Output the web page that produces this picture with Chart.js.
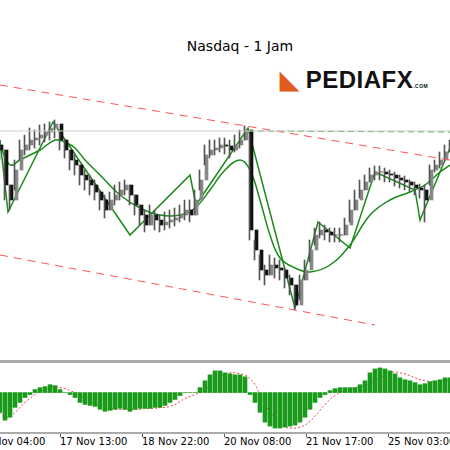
<!DOCTYPE html><html><head><script src="https://cdn.jsdelivr.net/npm/chart.js@4"></script>
<style>body{margin:0;width:450px;height:450px;overflow:hidden;background:#fff;font-family:"DejaVu Sans",sans-serif;position:relative}
#c1{position:absolute;left:0;top:0}#c2{position:absolute;left:0;top:363px}
#t{position:absolute;top:38px;left:0;width:480px;text-align:center;font-size:14px;color:#000}
#logo{position:absolute;left:280px;top:66px;font-weight:bold;font-size:24px;font-family:"Liberation Sans";color:#111;letter-spacing:0.5px}
#sep{position:absolute;left:0;top:360px;width:450px;height:3px;background:#aaa}
#bot{position:absolute;left:0;top:432px;width:450px;height:2px;background:#aaa}
.lb{position:absolute;top:436px;font-size:10px;color:#000;white-space:nowrap}
.tk{position:absolute;top:434px;width:1px;height:3px;background:#555}
</style></head><body>
<div id="t">Nasdaq - 1 Jam</div>
<div id="logo"><span style="color:#e25b1d">◣</span> PEDIAFX<span style="font-size:5px">.COM</span></div>
<canvas id="c1" width="450" height="360"></canvas><div id="sep"></div><canvas id="c2" width="450" height="69"></canvas><div id="bot"></div>
<div id="labels"></div>
<script>
const xs=[];for(let i=0;i<=450;i+=5)xs.push(i);
const closes=[150,185,200,170,150,145,140,138,135,132,128,124,140,150,160,165,175,180,185,192,200,210,200,195,190,185,195,205,215,225,215,220,225,222,220,218,215,210,215,200,180,155,150,148,145,146,150,145,140,130,230,250,270,275,265,268,270,278,285,305,280,270,250,235,230,232,235,235,235,225,210,200,190,182,175,172,172,174,175,178,180,182,185,188,190,200,170,165,160,152,145];
const highs=[140,150,185,160,140,135,128,130,125,124,122,120,130,140,150,155,165,170,175,180,190,195,192,185,182,180,185,195,205,210,205,210,215,212,210,208,205,200,200,190,170,145,140,140,138,138,140,135,130,126,135,240,255,265,255,258,260,268,275,285,275,260,240,228,222,225,228,228,228,218,200,190,180,175,168,166,166,168,170,172,175,176,180,182,184,185,165,160,152,145,140];
const lows=[160,200,210,190,160,155,150,148,145,142,140,138,150,158,170,175,185,190,195,200,210,218,210,205,200,195,205,215,225,232,225,230,232,230,228,226,222,220,222,215,190,165,158,155,152,154,158,152,148,140,240,260,280,285,275,278,280,288,295,310,300,280,262,245,238,240,242,242,242,235,222,210,198,190,182,180,180,182,182,186,188,190,192,195,198,222,185,172,168,160,152];
const maX=[0,10,20,30,40,55,65,75,85,100,120,140,160,180,195,210,225,240,250,260,270,280,295,310,330,350,370,390,410,425,440,450];
const maY=[145,165,160,155,150,140,142,148,160,175,195,208,215,215,208,190,170,160,170,200,235,258,268,272,265,245,215,200,192,185,172,165];
const zzX=[0,8,53,130,190,196,248,295,318,350,375,415,420,450];
const zzY=[140,212,122,235,175,205,128,308,222,248,172,190,220,148];
const macd=[-20,-28,-25,-15,-10,-5,-2,3,5,6,8,7,3,0,-2,-5,-10,-12,-13,-14,-17,-19,-18,-17,-16,-17,-19,-17,-16,-16,-16,-15,-15,-13,-10,-7,-3,0,0,0,5,12,18,22,22,20,19,18,18,16,-2,-10,-20,-30,-34,-36,-36,-35,-34,-33,-30,-25,-17,-10,-5,-2,2,4,5,5,5,5,8,12,20,24,25,24,22,19,15,13,12,10,8,9,11,12,13,15,15];
const signal=[-20,-25,-24,-20,-15,-10,-6,-2,1,3,5,6,5,4,2,0,-3,-6,-9,-11,-13,-15,-16,-17,-17,-17,-17,-17,-17,-16,-16,-16,-15,-15,-14,-12,-9,-6,-4,-2,0,3,7,12,16,19,20,20,19,18,14,8,-2,-12,-20,-27,-32,-35,-36,-36,-35,-33,-29,-24,-18,-12,-7,-3,0,2,4,5,6,7,9,12,15,18,20,21,20,19,17,15,13,12,11,11,12,12,13];
const tickPos=[-22,60,142,224,306,388];
const tickLabels=["16 Nov 04:00","17 Nov 13:00","18 Nov 22:00","20 Nov 08:00","21 Nov 17:00","25 Nov 03:00"];
const L=document.getElementById('labels');
tickPos.forEach((p,i)=>{L.insertAdjacentHTML('beforeend',`<div class="tk" style="left:${p}px"></div><div class="lb" style="left:${p}px">${tickLabels[i]}</div>`)});
const candles=xs.map((x,i)=>({x,y:[i?closes[i-1]:closes[0]-5,closes[i]]}));
const wicks=xs.map((x,i)=>({x,y:[lows[i],highs[i]]}));
const cc=candles.map(c=>c.y[1]<c.y[0]?'#888':'#111');
const hidden={display:false};
new Chart(document.getElementById('c1'),{data:{datasets:[
{type:'line',data:[{x:0,y:131},{x:450,y:131}],borderColor:'#ccc',borderWidth:1,pointRadius:0},
{type:'line',data:[{x:0,y:85},{x:450,y:160}],borderColor:'#f55',borderWidth:1,borderDash:[8,6],pointRadius:0},
{type:'line',data:[{x:0,y:255},{x:375,y:325}],borderColor:'#f55',borderWidth:1,borderDash:[8,6],pointRadius:0},
{type:'line',data:[{x:248,y:131},{x:450,y:132}],borderColor:'#4a4',borderWidth:1,borderDash:[6,4],pointRadius:0},
{type:'bar',data:wicks,backgroundColor:'#555',barThickness:1},
{type:'bar',data:candles,backgroundColor:cc,barThickness:3},
{type:'line',data:maX.map((x,i)=>({x,y:maY[i]})),borderColor:'#1a8a1a',borderWidth:1.5,pointRadius:0,tension:0.4},
{type:'line',data:zzX.map((x,i)=>({x,y:zzY[i]})),borderColor:'#1a8a1a',borderWidth:1.5,pointRadius:0},
]},options:{animation:false,responsive:false,plugins:{legend:hidden,tooltip:{enabled:false}},layout:{padding:0},
scales:{x:{type:'linear',min:0,max:450,display:false,offset:false},y:{reverse:true,min:0,max:360,display:false}}}});
new Chart(document.getElementById('c2'),{data:{datasets:[
{type:'bar',data:xs.map((x,i)=>({x,y:macd[i]})),backgroundColor:'#1a9a1a',barThickness:4},
{type:'line',data:xs.map((x,i)=>({x,y:signal[i]})),borderColor:'#e44',borderWidth:1,borderDash:[2,2],pointRadius:0,tension:0.4},
]},options:{animation:false,responsive:false,plugins:{legend:hidden,tooltip:{enabled:false}},layout:{padding:0},
scales:{x:{type:'linear',min:0,max:450,display:false,offset:false},y:{min:-40,max:30,display:false}}}});
</script></body></html>
